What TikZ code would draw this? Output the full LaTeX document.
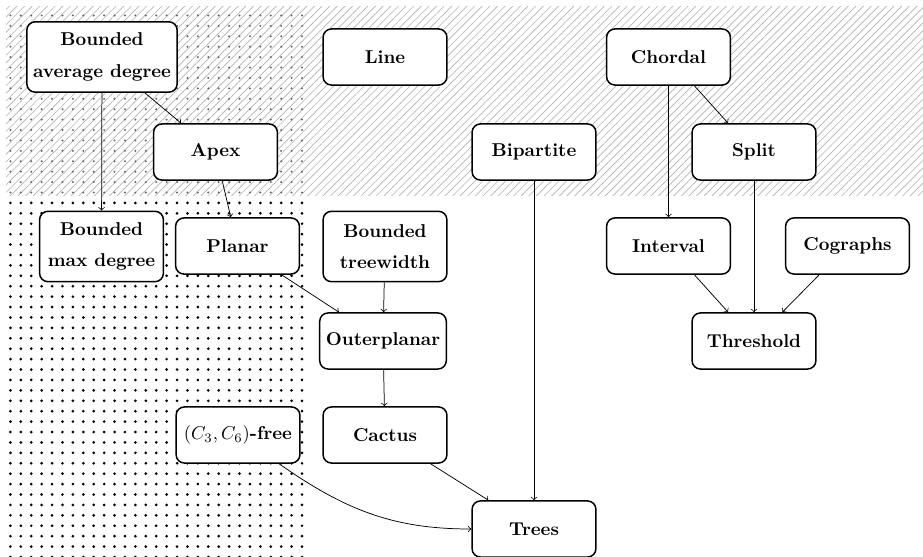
\documentclass[tikz,border=0pt]{standalone}
\usetikzlibrary{patterns.meta}
\begin{document}
\begin{tikzpicture}[x=0.189cm, y=-0.189cm,
  cls/.style={draw, thick, rounded corners=4.5pt, fill=white, font=\bfseries, align=center, minimum width=2.34cm, minimum height=1.06cm},
  tall/.style={minimum height=1.33cm}]
\useasboundingbox (0,0) rectangle (92.3,55.7);
% regions
\fill[pattern={Lines[angle=45,distance=2.9pt,line width=0.35pt]}, pattern color=gray!60] (0.6,0.7) rectangle (92.3,19.6);
\fill[pattern={Dots[distance=5.6pt,radius=0.6pt]}, pattern color=gray!80!black] (0.6,0.7) rectangle (31,19.6);
\fill[pattern={Dots[distance=5.6pt,radius=0.8pt]}, pattern color=black] (0.6,20) rectangle (31,55.7);
% classes
\node[cls, tall] (avgdeg) at (10.2,5.7){Bounded\\[5pt]average degree};
\node[cls] (apex) at (21.55,15.2){Apex};
\node[cls] (line) at (38.5,5.7){Line};
\node[cls] (chordal) at (66.85,5.7){Chordal};
\node[cls] (bip) at (53.4,15.2){Bipartite};
\node[cls] (split) at (75.4,15.2){Split};
\node[cls, tall] (maxdeg) at (10.15,24.65){Bounded\\[5pt]max degree};
\node[cls] (planar) at (23.75,24.6){Planar};
\node[cls, tall] (tw) at (38.5,24.65){Bounded\\[5pt]treewidth};
\node[cls] (interval) at (66.85,24.6){Interval};
\node[cls] (cographs) at (84.75,24.6){Cographs};
\node[cls] (outer) at (38.3,34.1){Outerplanar};
\node[cls] (threshold) at (75.4,34.1){Threshold};
\node[cls] (c3c6) at (23.8,43.5){$(C_3,C_6)$-free};
\node[cls] (cactus) at (38.5,43.5){Cactus};
\node[cls] (trees) at (53.4,52.9){Trees};
% inclusions
\draw[->](avgdeg) -- (apex);
\draw[->](avgdeg) -- (maxdeg);
\draw[->](apex) -- (planar);
\draw[->](planar) -- (outer);
\draw[->](tw) -- (outer);
\draw[->](outer) -- (cactus);
\draw[->](cactus) -- (trees);
\draw[->](bip) -- (trees);
\draw[->](c3c6) to[out=-35, in=180] (trees);
\draw[->](chordal) -- (interval);
\draw[->](chordal) -- (split);
\draw[->](split) -- (threshold);
\draw[->](interval) -- (threshold);
\draw[->](cographs) -- (threshold);
\end{tikzpicture}
\end{document}
